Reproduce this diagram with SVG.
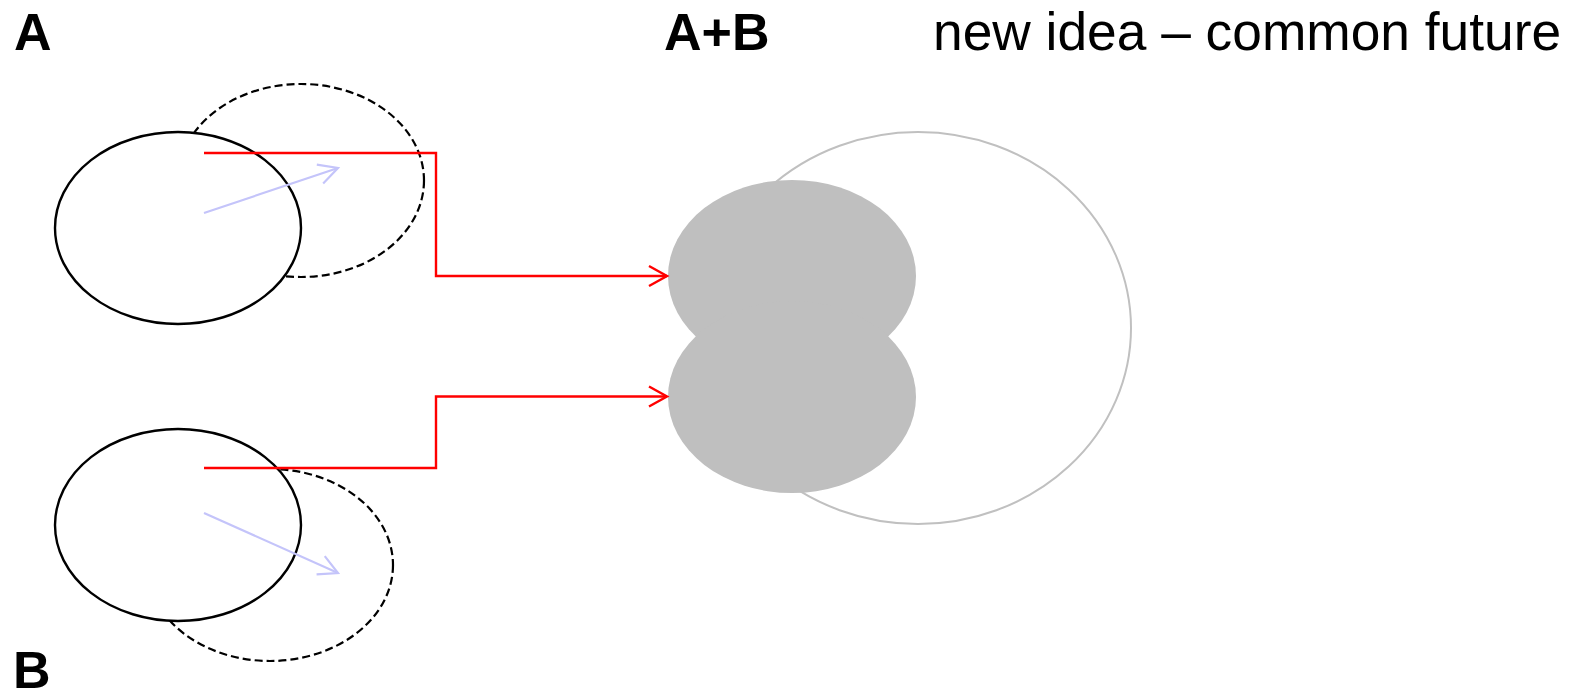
<svg xmlns="http://www.w3.org/2000/svg" width="1575" height="693" viewBox="0 0 1575 693">
  <style>
    .label { font-family: "Liberation Sans", Arial, sans-serif; font-size: 52px; fill: #000; }
    .bold { font-weight: bold; }
    .subtitle { font-size: 53.3px; }
    .current { fill: #fff; stroke: #000; stroke-width: 2.4; }
    .shifted { fill: none; stroke: #000; stroke-width: 2.2; stroke-dasharray: 8 4; }
    .merged { fill: #bfbfbf; stroke: none; }
    .future { fill: none; stroke: #c0c0c0; stroke-width: 2; }
    .link { fill: none; stroke: #ff0000; stroke-width: 2.4; marker-end: url(#redHead); }
    .drift { fill: none; stroke: #c4c4fa; stroke-width: 2.2; marker-end: url(#blueHead); }
  </style>
  <defs>
    <marker id="redHead" markerUnits="userSpaceOnUse" markerWidth="24" markerHeight="24" viewBox="-21 -12 24 24" refX="0" refY="0" orient="auto" overflow="visible">
      <path d="M-18,-10 L0,0 L-18,10" fill="none" stroke="#ff0000" stroke-width="2.4"/>
    </marker>
    <marker id="blueHead" markerUnits="userSpaceOnUse" markerWidth="24" markerHeight="24" viewBox="-21 -12 24 24" refX="0" refY="0" orient="auto" overflow="visible">
      <path d="M-19,-10 L0,0 L-19,10" fill="none" stroke="#c4c4fa" stroke-width="2.2"/>
    </marker>
  </defs>

  <rect width="1575" height="693" fill="#fff"/>

  <!-- idea A: current position and where it is heading -->
  <g id="ideaA">
    <ellipse class="shifted" cx="301" cy="180.5" rx="123" ry="96.5"/>
    <ellipse class="current" cx="178" cy="228" rx="123" ry="96"/>
    <text class="label bold" x="14" y="50">A</text>
  </g>

  <!-- idea B: current position and where it is heading -->
  <g id="ideaB">
    <ellipse class="shifted" cx="270" cy="565" rx="123" ry="96"/>
    <ellipse class="current" cx="178" cy="525" rx="123" ry="96"/>
    <text class="label bold" x="13" y="688">B</text>
  </g>

  <!-- combined idea A+B inside the common future -->
  <g id="commonFuture">
    <ellipse class="future" cx="918" cy="328" rx="213" ry="196"/>
    <ellipse class="merged" cx="792" cy="276" rx="124" ry="96"/>
    <ellipse class="merged" cx="792" cy="397" rx="124" ry="96"/>
    <text class="label bold" x="664" y="50">A+B</text>
    <text class="label subtitle" x="933" y="49.5">new idea – common future</text>
  </g>

  <!-- connectors -->
  <g id="connectors">
    <path class="link" d="M204,153 H436 V276 H667"/>
    <path class="link" d="M204,468 H436 V396.5 H667"/>
    <path class="drift" d="M204,213 L338,168"/>
    <path class="drift" d="M204,513 L338,573"/>
  </g>
</svg>
